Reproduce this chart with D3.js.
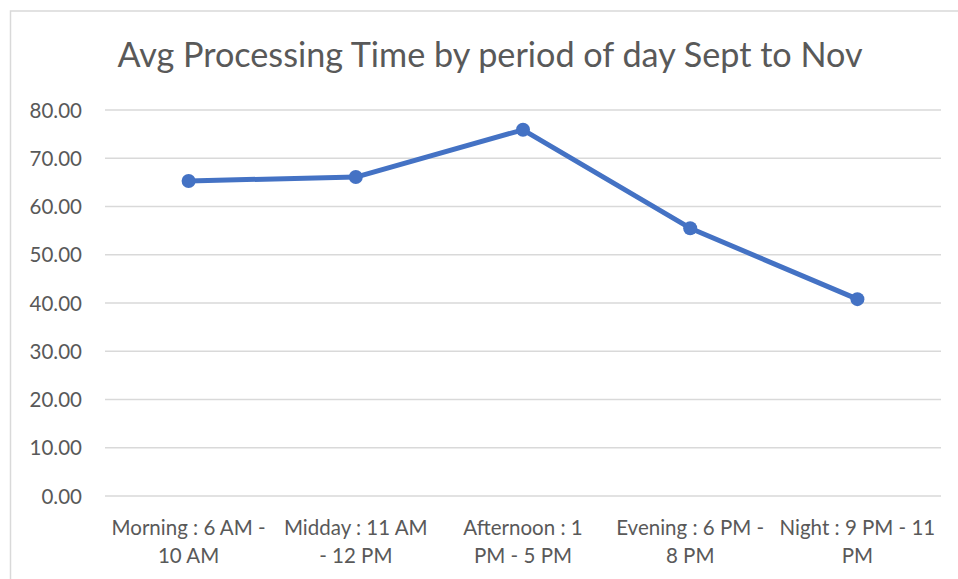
<!DOCTYPE html>
<html>
<head>
<meta charset="utf-8">
<script src="https://cdn.jsdelivr.net/npm/d3@7"></script>
<style>
  html, body { margin: 0; padding: 0; background: #fff; }
  svg { display: block; }
  text { font-family: Lato, "Open Sans", sans-serif; fill: #595959; }
</style>
</head>
<body>
<script>
const title = "Avg Processing Time by period of day Sept to Nov";
const categories = [
  "Morning : 6 AM - 10 AM",
  "Midday : 11 AM - 12 PM",
  "Afternoon : 1 PM - 5 PM",
  "Evening : 6 PM - 8 PM",
  "Night : 9 PM - 11 PM"
];
const categoryTickLines = [
  ["Morning : 6 AM -", "10 AM"],
  ["Midday : 11 AM", "- 12 PM"],
  ["Afternoon : 1", "PM - 5 PM"],
  ["Evening : 6 PM -", "8 PM"],
  ["Night : 9 PM - 11", "PM"]
];
const values = [65.3, 66.1, 75.9, 55.5, 40.8];
const yTicks = [0, 10, 20, 30, 40, 50, 60, 70, 80];

const W = 958, H = 579;
const svg = d3.select("body").append("svg").attr("width", W).attr("height", H);

// chart area border
svg.append("rect")
  .attr("x", 10.5).attr("y", 11)
  .attr("width", W + 20).attr("height", H + 20)
  .attr("fill", "none").attr("stroke", "#d9d9d9").attr("stroke-width", 1.5);

const plot = { left: 105, right: 941, top: 110, bottom: 496 };

const x = d3.scaleBand().domain(categories).range([plot.left, plot.right]).padding(0);
const y = d3.scaleLinear().domain([0, 80]).range([plot.bottom, plot.top]);

// title
svg.append("text")
  .attr("x", 490)
  .attr("y", 67)
  .attr("text-anchor", "middle")
  .style("font-size", "34.2px")
  .text(title);

// gridlines
svg.append("g").selectAll("line").data(yTicks).join("line")
  .attr("x1", plot.left).attr("x2", plot.right)
  .attr("y1", d => y(d)).attr("y2", d => y(d))
  .attr("stroke", "#d9d9d9").attr("stroke-width", 1.3);

// y axis labels
const yAxis = d3.axisLeft(y).tickValues(yTicks).tickFormat(d3.format(".2f")).tickSize(0).tickPadding(0);
const gy = svg.append("g").attr("transform", `translate(82,0)`).call(yAxis);
gy.select(".domain").remove();
gy.selectAll("text").style("font-size", "20.5px").attr("fill", "#595959").attr("dy", "0.35em");

// x axis labels
const xAxis = d3.axisBottom(x).tickSize(0).tickPadding(0);
const gx = svg.append("g").attr("transform", `translate(0,${plot.bottom})`).call(xAxis);
gx.select(".domain").remove();
gx.selectAll("text").style("font-size", "20.5px").attr("fill", "#595959")
  .each(function(d, i) {
    const t = d3.select(this);
    t.text(null).attr("y", 0).attr("dy", null);
    categoryTickLines[i].forEach((l, j) => {
      t.append("tspan").attr("x", 0).attr("y", 39 + j * 28).text(l);
    });
  });

// line
const lineGen = d3.line()
  .x((d, i) => x(categories[i]) + x.bandwidth() / 2)
  .y(d => y(d));
svg.append("path").datum(values)
  .attr("d", lineGen)
  .attr("fill", "none")
  .attr("stroke", "#4472C4")
  .attr("stroke-width", 5)
  .attr("stroke-linejoin", "round");

svg.append("g").selectAll("circle").data(values).join("circle")
  .attr("cx", (d, i) => x(categories[i]) + x.bandwidth() / 2)
  .attr("cy", d => y(d))
  .attr("r", 7)
  .attr("fill", "#4472C4");
</script>
</body>
</html>
